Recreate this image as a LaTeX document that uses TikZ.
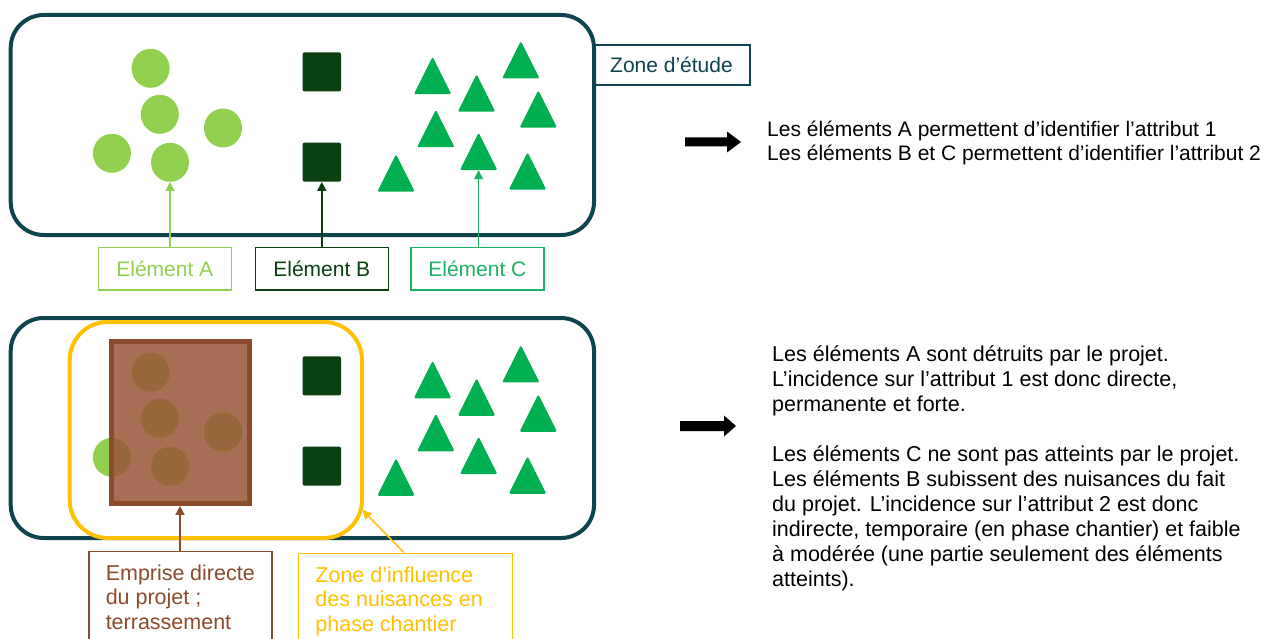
\documentclass[tikz,border=0pt]{standalone}
\usepackage{fontspec}
\setmainfont{Liberation Sans}
\usetikzlibrary{arrows.meta,shapes.geometric}
\definecolor{teal}{RGB}{14,68,78}
\definecolor{lgreen}{RGB}{146,208,80}
\definecolor{dgreen}{RGB}{10,64,16}
\definecolor{mgreen}{RGB}{0,176,80}
\definecolor{cgreen}{RGB}{30,178,100}
\definecolor{ylw}{RGB}{255,192,0}
\definecolor{brfill}{RGB}{151,85,56}
\definecolor{brline}{RGB}{140,75,45}
\newcommand{\tri}[2]{\fill[mgreen,rounded corners=1.5pt] (#1-18.75,#2+18.75) -- (#1,#2-18.75) -- (#1+18.75,#2+18.75) -- cycle;}
\begin{document}
\begin{tikzpicture}[x=1pt,y=-1pt,
  txt/.style={font=\fontsize{21}{24}\selectfont},
  btxt/.style={font=\fontsize{21.5}{24.5}\selectfont},
  zone/.style={draw=teal,line width=4pt,rounded corners=33pt},
  circA/.style={ellipse,fill=lgreen,inner sep=0pt,minimum width=38pt,minimum height=39pt},
  sqB/.style={rectangle,fill=dgreen,inner sep=0pt,minimum width=38.5pt,minimum height=39pt,rounded corners=2pt},
  lbl/.style={txt,draw,line width=1.5pt,minimum width=133pt,minimum height=42.5pt,inner sep=0pt},
  arr/.style={line width=1.5pt,-{Triangle[width=9pt,length=9pt]}},
  blk/.style={fill=black}
]
\useasboundingbox (0,0) rectangle (1266,639);
\fill[white] (0,0) rectangle (1266,639);

% ---------- top part ----------
\draw[zone] (10.7,15) rectangle (594,235);
\node[circA] (a1) at (150.6,68.3) {};
\node[circA] (a2) at (159.8,114.3) {};
\node[circA] (a3) at (223,128) {};
\node[circA] (a4) at (111.9,153.3) {};
\node[circA] (a5) at (170,162.3) {};
\node[sqB] (b1) at (321.8,71.8) {};
\node[sqB] (b2) at (321.8,162.2) {};
\tri{432.6}{75.5}
\tri{520.8}{59.7}
\tri{476.6}{93}
\tri{538.3}{109}
\tri{435.8}{128.5}
\tri{478.6}{151.4}
\tri{396}{173}
\tri{527.6}{171}
\coordinate (c6) at (478.6,170.2);

\node[txt,draw=teal,line width=1.5pt,text=teal,minimum width=157pt,minimum height=40pt,inner sep=0pt] (zone) at (671.5,65) {Zone d’étude};

\node[lbl,draw=lgreen,text=lgreen] (lA) at (164.8,268.6) {Elément A};
\node[lbl,draw=dgreen,text=dgreen] (lB) at (321.8,268.6) {Elément B};
\node[lbl,draw=cgreen,text=cgreen] (lC) at (477.4,268.6) {Elément C};
\draw[arr,lgreen] (lA.north -| a5.south) -- (a5.south);
\draw[arr,dgreen] (lB.north -| b2.south) -- (b2.south);
\draw[arr,cgreen] (lC.north -| c6) -- (c6);

\fill[blk] (685,137.5) -- (727,137.5) -- (727,131.5) -- (741,142) -- (727,152.5) -- (727,146.5) -- (685,146.5) -- cycle;
\node[txt,anchor=west,align=left,inner sep=0pt] (t1) at (767,143) {Les éléments A permettent d’identifier l’attribut 1\\Les éléments B et C permettent d’identifier l’attribut 2};

% ---------- bottom part ----------
\draw[zone] (10.7,318) rectangle (594,538);
\node[circA] (d1) at (150.6,372.3) {};
\node[circA] (d2) at (159.8,418.3) {};
\node[circA] (d3) at (223,432) {};
\node[circA] (d4) at (111.9,457.3) {};
\node[circA] (d5) at (170,466.3) {};
\node[sqB] (e1) at (321.8,375.8) {};
\node[sqB] (e2) at (321.8,466.2) {};
\tri{432.6}{379.5}
\tri{520.8}{363.7}
\tri{476.6}{397}
\tri{538.3}{413}
\tri{435.8}{432.5}
\tri{478.6}{455.4}
\tri{396}{477}
\tri{527.6}{475}

\node[draw=brline,line width=5pt,fill=brfill,fill opacity=0.85,draw opacity=1,minimum width=138pt,minimum height=162.3pt,inner sep=0pt] (emp) at (180,422.2) {};
\draw[draw=ylw,line width=4pt,rounded corners=38pt] (69.7,322) rectangle (362,538);
\coordinate (yT) at (362.5,510);

\node[btxt,draw=brline,line width=1.5pt,text=brline,anchor=north west,inner xsep=17pt,inner ysep=13pt] (lE) at (88,550.7)
  {\parbox[b][100pt][t]{149pt}{\raggedright Emprise directe\\du projet ;\\terrassement}};
\node[btxt,draw=ylw,line width=1.5pt,text=ylw,anchor=north west,inner xsep=17pt,inner ysep=13pt] (lZ) at (297.7,552.7)
  {\parbox[b][100pt][t]{180pt}{\raggedright Zone d’influence\\des nuisances en\\phase chantier}};
\draw[arr,brline] (lE.north -| emp.south) -- (emp.south);
\draw[arr,ylw] (404,552.7) -- (yT);

\fill[blk] (680,421) -- (724,421) -- (724,415.5) -- (736,426) -- (724,436.5) -- (724,431) -- (680,431) -- cycle;
\node[anchor=north west,align=left,inner sep=0pt,font=\fontsize{21.5}{25}\selectfont] (t2) at (772,345)
  {Les éléments A sont détruits par le projet.\\
   L’incidence sur l’attribut 1 est donc directe,\\
   permanente et forte.\\[25pt]
   Les éléments C ne sont pas atteints par le projet.\\
   Les éléments B subissent des nuisances du fait\\
   du projet. L’incidence sur l’attribut 2 est donc\\
   indirecte, temporaire (en phase chantier) et faible\\
   à modérée (une partie seulement des éléments\\
   atteints).};
\end{tikzpicture}
\end{document}
